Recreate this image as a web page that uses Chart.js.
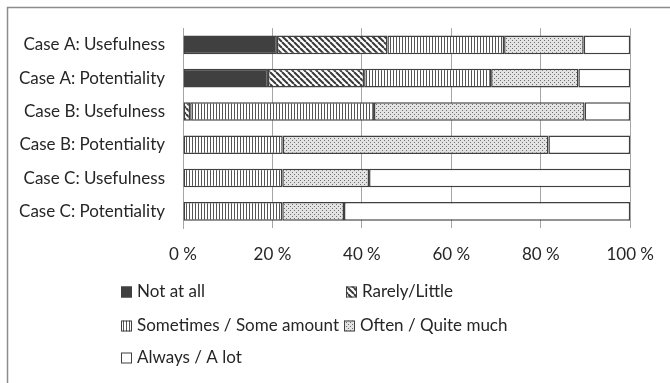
<!DOCTYPE html>
<html>
<head>
<meta charset="utf-8">
<script src="https://cdn.jsdelivr.net/npm/chart.js@4/dist/chart.umd.min.js"></script>
<style>
  html, body { margin: 0; padding: 0; background: #fff; }
  #wrap { position: relative; width: 670px; height: 383px; }
</style>
</head>
<body>
<div id="wrap"><canvas id="c" width="670" height="383"></canvas></div>
<script>
// Survey answers, share of respondents (%) per case and question
const categories = [
  'Case A: Usefulness',
  'Case A: Potentiality',
  'Case B: Usefulness',
  'Case B: Potentiality',
  'Case C: Usefulness',
  'Case C: Potentiality'
];
const seriesNames = [
  'Not at all',
  'Rarely/Little',
  'Sometimes / Some amount',
  'Often / Quite much',
  'Always / A lot'
];
const notAtAll  = [21.0, 19.0, 0.0, 0.0, 0.0, 0.0];
const rarely    = [24.7, 21.5, 1.6, 0.0, 0.0, 0.0];
const sometimes = [26.1, 28.4, 41.1, 22.3, 22.2, 22.2];
const often     = [17.8, 19.5, 47.1, 59.4, 19.4, 13.8];
const always    = [10.4, 11.6, 10.2, 18.3, 58.4, 64.0];
const tickValues = [0, 20, 40, 60, 80, 100];

const FONT = 'Lato, "Open Sans", sans-serif';
const FONT_SIZE = 17;
const TEXT = '#262626';
const EDGE = '#404040';

// ---- fill patterns ----
function makePattern(w, h, paint) {
  const c = document.createElement('canvas');
  c.width = w; c.height = h;
  const g = c.getContext('2d');
  g.fillStyle = '#ffffff';
  g.fillRect(0, 0, w, h);
  paint(g, w, h);
  return document.getElementById('c').getContext('2d').createPattern(c, 'repeat');
}
const solidFill = '#404040';
const diagFill = makePattern(6, 6, (g, w, h) => {
  g.strokeStyle = '#3a3a3a';
  g.lineWidth = 2;
  for (let k = -2; k <= 2; k++) {
    g.beginPath();
    g.moveTo(k * w, 0);
    g.lineTo(k * w + w, h);
    g.stroke();
  }
});
const vertFill = makePattern(3, 4, (g) => {
  g.fillStyle = '#555555';
  g.fillRect(0, 0, 1, 4);
});
const dotFill = makePattern(4, 4, (g) => {
  g.fillStyle = '#e3e3e3';
  g.fillRect(0, 0, 4, 4);
  g.fillStyle = '#6e6e6e';
  g.fillRect(0, 0, 1, 1);
  g.fillRect(2, 2, 1, 1);
});
const fills = [solidFill, diagFill, vertFill, dotFill, '#ffffff'];
const seriesValues = [notAtAll, rarely, sometimes, often, always];

// ---- frame line around the chart ----
const framePlugin = {
  id: 'frame',
  beforeDraw(chart) {
    const ctx = chart.ctx;
    ctx.save();
    ctx.strokeStyle = '#8c8c8c';
    ctx.lineWidth = 1.5;
    ctx.beginPath();
    ctx.moveTo(7.5, 383);
    ctx.lineTo(7.5, 7.5);
    ctx.lineTo(670, 7.5);
    ctx.stroke();
    ctx.restore();
  }
};

// ---- legend drawn at fixed slots below the axis ----
const legendSlots = [
  { x: 121, y: 292 },
  { x: 346, y: 292 },
  { x: 121, y: 326 },
  { x: 344, y: 326 },
  { x: 121, y: 358 }
];
const legendPlugin = {
  id: 'slotLegend',
  afterDraw(chart) {
    const ctx = chart.ctx;
    ctx.save();
    ctx.font = FONT_SIZE + 'px ' + FONT;
    ctx.textBaseline = 'middle';
    ctx.textAlign = 'left';
    chart.data.datasets.forEach((ds, i) => {
      const s = legendSlots[i];
      const box = 11;
      ctx.fillStyle = ds.backgroundColor;
      ctx.fillRect(s.x, s.y - box / 2, box, box);
      ctx.strokeStyle = EDGE;
      ctx.lineWidth = 1;
      ctx.strokeRect(s.x + 0.5, s.y - box / 2 + 0.5, box - 1, box - 1);
      ctx.fillStyle = TEXT;
      ctx.fillText(ds.label, s.x + 16, s.y);
    });
    ctx.restore();
  }
};

new Chart(document.getElementById('c'), {
  type: 'bar',
  data: {
    labels: categories,
    datasets: seriesNames.map((name, i) => ({
      label: name,
      data: seriesValues[i],
      backgroundColor: fills[i],
      borderColor: EDGE,
      borderWidth: 1.5,
      borderSkipped: false,
      barPercentage: 0.56,
      categoryPercentage: 1.0
    }))
  },
  options: {
    indexAxis: 'y',
    responsive: false,
    animation: false,
    devicePixelRatio: 1,
    layout: { padding: { left: 7, top: 26, right: 35, bottom: 115 } },
    plugins: {
      legend: { display: false },
      tooltip: { enabled: false }
    },
    scales: {
      x: {
        stacked: true,
        min: 0,
        max: 100,
        afterBuildTicks(scale) {
          scale.ticks = tickValues.map(v => ({ value: v }));
        },
        afterFit(scale) { scale.height = 40; },
        grid: { color: '#a6a6a6', lineWidth: 1, drawTicks: false },
        border: { display: false },
        ticks: {
          padding: 16,
          color: TEXT,
          font: { family: FONT, size: FONT_SIZE },
          callback: v => v + ' %'
        }
      },
      y: {
        stacked: true,
        afterFit(scale) { scale.width = 176; },
        grid: { display: false, drawTicks: false },
        border: { display: true, color: '#a6a6a6', width: 1 },
        ticks: {
          padding: 18,
          color: TEXT,
          font: { family: FONT, size: FONT_SIZE }
        }
      }
    }
  },
  plugins: [framePlugin, legendPlugin]
});
</script>
</body>
</html>
